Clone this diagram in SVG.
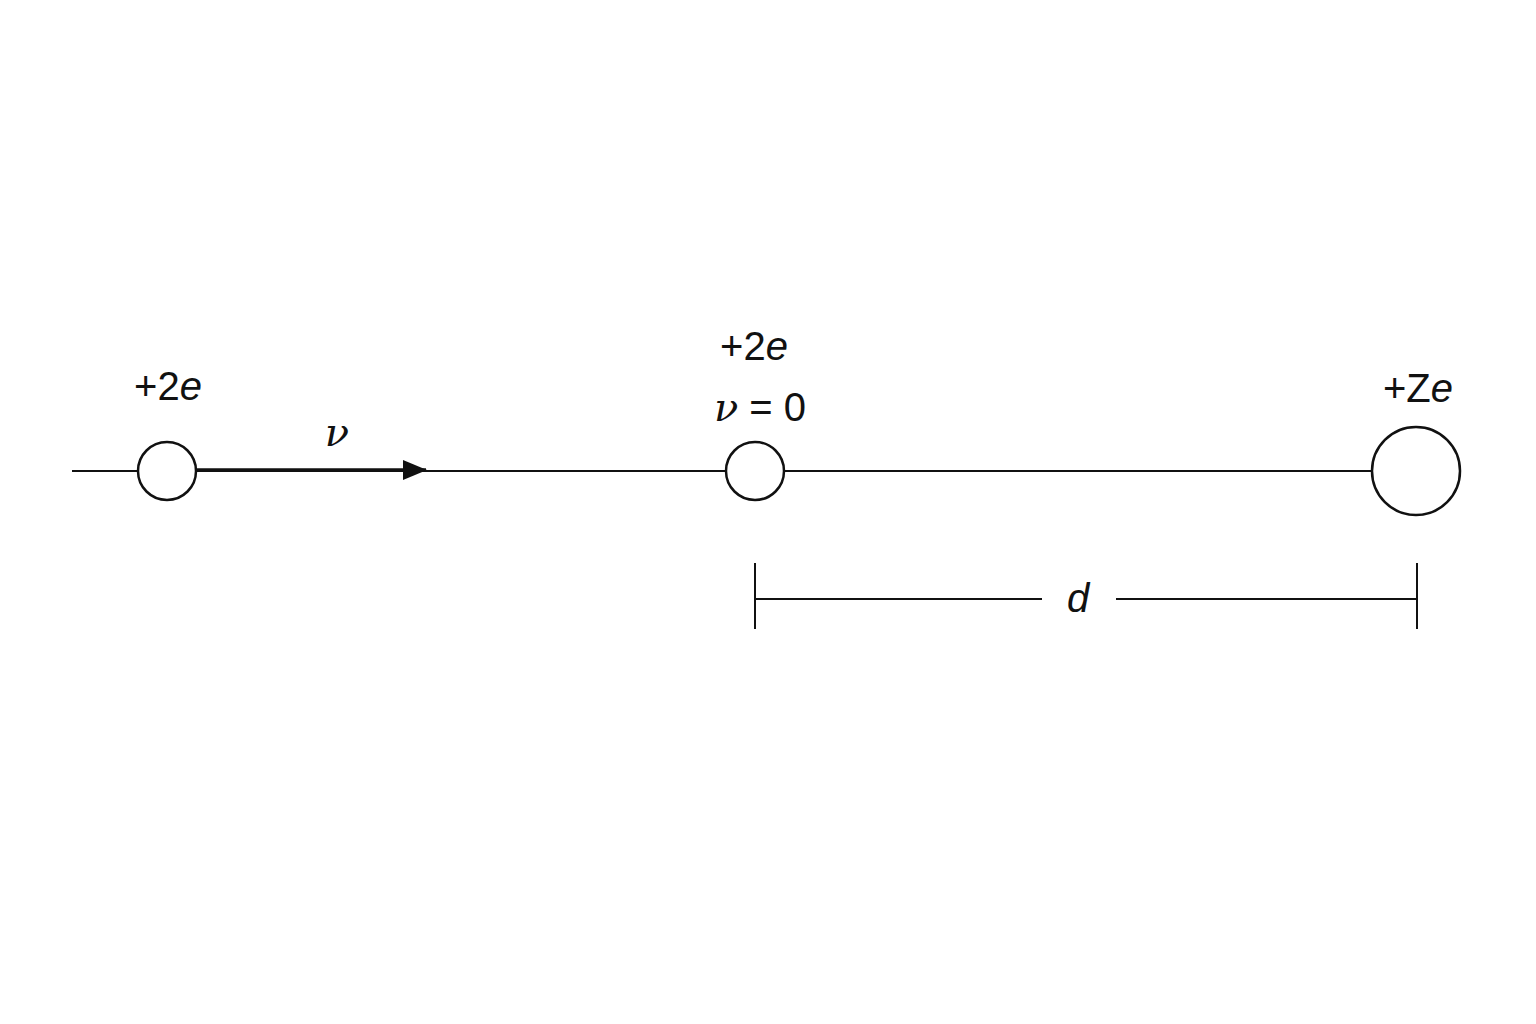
<svg xmlns="http://www.w3.org/2000/svg" width="1536" height="1024" viewBox="0 0 1536 1024">
<style>
.ln{stroke:#111;stroke-width:2;fill:none}
.nd{stroke:#111;stroke-width:2.5;fill:#fff}
.lb{font-family:"Liberation Sans",Arial,sans-serif;font-size:40px;fill:#111;text-anchor:middle}
.it{font-style:italic}
.nu{font-family:"DejaVu Serif","Liberation Serif",serif;font-style:italic}
</style>
<defs>
<marker id="ah" markerWidth="24" markerHeight="20" refX="23" refY="10" orient="auto" markerUnits="userSpaceOnUse">
<path d="M0,0 L24,10 L0,20 Z" fill="#111"/>
</marker>
</defs>
<rect width="1536" height="1024" fill="#fff"/>
<g id="connectors">
<line class="ln" x1="72" y1="471" x2="1372" y2="471"/>
<line x1="196" y1="470" x2="426" y2="470" stroke="#111" stroke-width="3.5" marker-end="url(#ah)"/>
<line class="ln" x1="755" y1="563" x2="755" y2="629"/>
<line class="ln" x1="755" y1="599" x2="1042" y2="599"/>
<line class="ln" x1="1116" y1="599" x2="1417" y2="599"/>
<line class="ln" x1="1417" y1="563" x2="1417" y2="629"/>
<text class="lb it" x="1078" y="612">d</text>
<text class="lb nu" x="337" y="446">ν</text>
</g>
<g id="alpha1">
<circle class="nd" cx="167" cy="471" r="29"/>
<text class="lb" x="168" y="400">+2<tspan class="it">e</tspan></text>
</g>
<g id="alpha2">
<circle class="nd" cx="755" cy="471" r="29"/>
<text class="lb" x="754" y="360">+2<tspan class="it">e</tspan></text>
<text class="lb" x="760" y="421"><tspan class="nu">ν</tspan> = 0</text>
</g>
<g id="nucleus">
<circle class="nd" cx="1416" cy="471" r="44"/>
<text class="lb" x="1418" y="402">+Z<tspan class="it">e</tspan></text>
</g>
</svg>
